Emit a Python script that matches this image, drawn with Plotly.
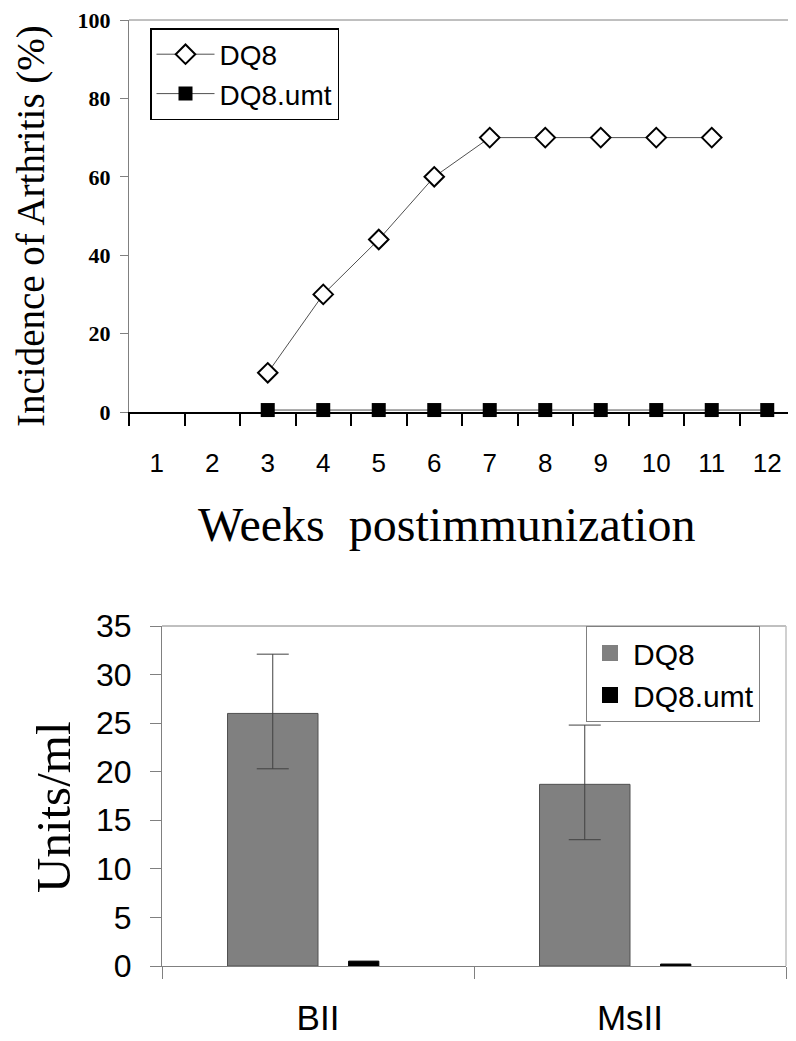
import plotly.graph_objects as go

# ── data ──────────────────────────────────────────────────────────────────────
WEEKS = ["1", "2", "3", "4", "5", "6", "7", "8", "9", "10", "11", "12"]

DQ8_WEEKS = ["3", "4", "5", "6", "7", "8", "9", "10", "11"]
DQ8_INCIDENCE = [10, 30, 44, 60, 70, 70, 70, 70, 70]

UMT_WEEKS = ["3", "4", "5", "6", "7", "8", "9", "10", "11", "12"]
UMT_INCIDENCE = [0.5, 0.5, 0.5, 0.5, 0.5, 0.5, 0.5, 0.5, 0.5, 0.5]

ANTIGENS = ["BII", "MsII"]
DQ8_UNITS = [26.0, 18.7]
DQ8_ERR_PLUS = [6.1, 6.1]
DQ8_ERR_MINUS = [5.7, 5.7]
UMT_UNITS = [0.5, 0.2]

SERIF = "Liberation Serif, Times New Roman, serif"
SANS = "Liberation Sans, Arial, sans-serif"

W, H = 796, 1041
BODY = 8  # page body margin that offsets the figure


def px(x):  # page pixel -> paper x
    return (x - BODY) / W


def py(y):  # page pixel -> paper y
    return 1 - (y - BODY) / H


fig = go.Figure()

# ── top: incidence line chart ─────────────────────────────────────────────────
fig.add_trace(go.Scatter(
    x=DQ8_WEEKS, y=DQ8_INCIDENCE, name="DQ8", mode="lines+markers",
    line=dict(color="#505050", width=1),
    marker=dict(symbol="diamond", size=15, color="white",
                line=dict(color="black", width=2)),
    cliponaxis=False, xaxis="x", yaxis="y", legend="legend",
))
fig.add_trace(go.Scatter(
    x=UMT_WEEKS, y=UMT_INCIDENCE, name="DQ8.umt", mode="lines+markers",
    line=dict(color="#505050", width=1),
    marker=dict(symbol="square", size=14, color="black"),
    cliponaxis=False, xaxis="x", yaxis="y", legend="legend",
))

# ── bottom: antibody bars ─────────────────────────────────────────────────────
fig.add_trace(go.Bar(
    x=ANTIGENS, y=DQ8_UNITS, name="DQ8", showlegend=False,
    offset=-0.29, width=0.29,
    marker=dict(color="#808080", line=dict(color="#505050", width=1)),
    error_y=dict(type="data", symmetric=False, array=DQ8_ERR_PLUS,
                 arrayminus=DQ8_ERR_MINUS, color="#404040",
                 thickness=1, width=16),
    xaxis="x2", yaxis="y2",
))
fig.add_trace(go.Bar(
    x=ANTIGENS, y=UMT_UNITS, name="DQ8.umt", showlegend=False,
    offset=0.098, width=0.097,
    marker=dict(color="black", line=dict(color="black", width=1)),
    xaxis="x2", yaxis="y2",
))
# legend keys for the bar chart (bigger squares than the bar icons)
fig.add_trace(go.Scatter(
    x=[None], y=[None], name="DQ8", mode="markers",
    marker=dict(symbol="square", size=16, color="#808080"),
    xaxis="x2", yaxis="y2", legend="legend2",
))
fig.add_trace(go.Scatter(
    x=[None], y=[None], name="DQ8.umt", mode="markers",
    marker=dict(symbol="square", size=16, color="black"),
    xaxis="x2", yaxis="y2", legend="legend2",
))

# frame lines (top / right) of both plot areas
for xr, yr in (("x domain", "y domain"), ("x2 domain", "y2 domain")):
    fig.add_shape(type="line", xref=xr, yref=yr, x0=0, x1=1, y0=1, y1=1,
                  line=dict(color="#808080", width=1))
    fig.add_shape(type="line", xref=xr, yref=yr, x0=1, x1=1, y0=0, y1=1,
                  line=dict(color="#c0c0c0", width=1.5))

fig.add_annotation(text="Incidence of Arthritis (%)", textangle=-90,
                   x=px(31), y=py(226), xref="paper", yref="paper",
                   xanchor="center", yanchor="middle", showarrow=False,
                   font=dict(family=SERIF, size=39, color="black"))
fig.add_annotation(text="Weeks\u00a0 postimmunization",
                   x=px(446), y=py(524), xref="paper", yref="paper",
                   xanchor="center", yanchor="middle", showarrow=False,
                   font=dict(family=SERIF, size=48, color="black"))
fig.add_annotation(text="Units/ml", textangle=-90,
                   x=px(53), y=py(807), xref="paper", yref="paper",
                   xanchor="center", yanchor="middle", showarrow=False,
                   font=dict(family=SERIF, size=49, color="black"))

fig.update_layout(
    width=W, height=H,
    margin=dict(l=0, r=0, t=0, b=0, autoexpand=False),
    paper_bgcolor="white", plot_bgcolor="white",
    barmode="overlay",
    xaxis=dict(
        domain=[px(129), px(795)], anchor="y", automargin=False,
        type="category", categoryorder="array", categoryarray=WEEKS,
        range=[-0.5, 11.5], showgrid=False, zeroline=False,
        showline=True, linecolor="black", linewidth=2,
        ticks="outside", tickson="boundaries", ticklen=12,
        tickcolor="black", tickwidth=1.5, layer="below traces",
        tickfont=dict(family=SANS, size=26, color="black"),
        ticklabelstandoff=27,
    ),
    yaxis=dict(
        domain=[py(412), py(20)], anchor="x", automargin=False,
        range=[0, 100], tick0=0, dtick=20, showgrid=False, zeroline=False,
        showline=True, linecolor="#808080", linewidth=1,
        ticks="outside", ticklen=8, tickcolor="#808080",
        tickfont=dict(family=SERIF, size=22, color="black", weight="bold"),
        ticklabelstandoff=5, ticklabeloverflow="allow",
    ),
    xaxis2=dict(
        domain=[px(162), px(786)], anchor="y2", automargin=False,
        type="category", range=[-0.5, 1.5], showgrid=False, zeroline=False,
        showline=True, linecolor="#808080", linewidth=1,
        ticks="outside", tickson="boundaries", ticklen=12,
        tickcolor="#808080",
        tickfont=dict(family=SANS, size=35, color="black"),
        ticklabelstandoff=21,
    ),
    yaxis2=dict(
        domain=[py(966), py(626)], anchor="x2", automargin=False,
        range=[0, 35], tick0=0, dtick=5, showgrid=False, zeroline=False,
        showline=True, linecolor="#808080", linewidth=1,
        ticks="outside", ticklen=11, tickcolor="#808080",
        tickfont=dict(family=SANS, size=32, color="black"),
        ticklabelstandoff=12,
    ),
    legend=dict(
        x=px(150), y=py(28), xanchor="left", yanchor="top",
        bgcolor="white", bordercolor="black", borderwidth=1.5,
        itemwidth=58,
        font=dict(family=SANS, size=28, color="black"),
    ),
    legend2=dict(
        x=px(586), y=py(626), xanchor="left", yanchor="top",
        bgcolor="white", bordercolor="#808080", borderwidth=1,
        itemwidth=36,
        font=dict(family=SANS, size=30, color="black"),
    ),
)

fig.write_html("out.html")
